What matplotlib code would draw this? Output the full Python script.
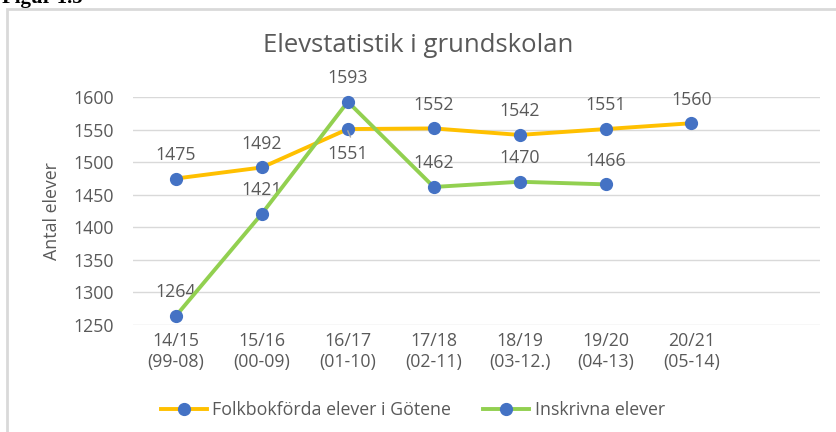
import numpy as np
import matplotlib
matplotlib.use("Agg")
import matplotlib.pyplot as plt
from matplotlib.patches import Rectangle

# data
kat = ["14/15\n(99-08)", "15/16\n(00-09)", "16/17\n(01-10)", "17/18\n(02-11)",
       "18/19\n(03-12.)", "19/20\n(04-13)", "20/21\n(05-14)", ""]
folkbok = [1475, 1492, 1551, 1552, 1542, 1551, 1560]
inskrivna = [1264, 1421, 1593, 1462, 1470, 1466]
yticks = [1250, 1300, 1350, 1400, 1450, 1500, 1550, 1600]

plt.rcParams['font.family'] = ['Open Sans', 'DejaVu Sans']
grey = "#595959"
gul = "#FFC000"
gron = "#92D050"
bla = "#4472C4"
fs = 12.8

fig = plt.figure(figsize=(8.37, 4.32), dpi=100)
ax = fig.add_axes([0.159, 0.248, 0.821, 0.527])

# chart frame
fig.patches.append(Rectangle((7/837, -0.1), 1.0, 1 - 9/432 + 0.1, transform=fig.transFigure,
                             fill=False, edgecolor="#d9d9d9", linewidth=2))
fig.text(2/837, 1 + 2/432, "Figur 1.5", fontsize=15, fontweight="bold",
         family="Liberation Serif", va="center", ha="left")

x = np.arange(len(kat))
ax.plot(x[:len(folkbok)], folkbok, color=gul, lw=2.8, marker="o", ms=8.5,
        mfc=bla, mec=bla, label="Folkbokförda elever i Götene", clip_on=False, zorder=3)
ax.plot(x[:len(inskrivna)], inskrivna, color=gron, lw=2.8, marker="o", ms=8.5,
        mfc=bla, mec=bla, label="Inskrivna elever", clip_on=False, zorder=4)

for i, v in enumerate(folkbok):
    if i == 2:
        ax.annotate(str(v), (x[i], v), xytext=(0, -18), textcoords="offset points",
                    ha="center", va="center", fontsize=fs, color=grey)
        ax.plot([x[i], x[i] + 0.03], [v - 3, v - 12], color="#a6a6a6", lw=1, zorder=5)
    else:
        ax.annotate(str(v), (x[i], v), xytext=(0, 17), textcoords="offset points",
                    ha="center", va="center", fontsize=fs, color=grey)
for i, v in enumerate(inskrivna):
    ax.annotate(str(v), (x[i], v), xytext=(0, 17), textcoords="offset points",
                ha="center", va="center", fontsize=fs, color=grey)

ax.set_xlim(-0.5, len(kat) - 0.5)
ax.set_ylim(1250, 1600)
ax.set_yticks(yticks)
ax.set_xticks(x)
ax.set_xticklabels(kat, color=grey, fontsize=fs, linespacing=1.25)
ax.tick_params(axis="y", colors=grey, labelsize=fs, length=0, pad=14)
ax.tick_params(axis="x", length=0, pad=5)
ax.grid(axis="y", color="#d9d9d9", lw=1)
ax.set_axisbelow(True)
for s in ax.spines.values():
    s.set_visible(False)
ax.set_ylabel("Antal elever", color=grey, fontsize=fs, labelpad=9)

fig.text(0.5, 1 - 45/432, "Elevstatistik i grundskolan", ha="center", va="center",
         fontsize=18.5, color=grey)

ax.legend(loc="center", bbox_to_anchor=(0.493, 1 - 410/432), bbox_transform=fig.transFigure,
          ncol=2, frameon=False, fontsize=fs, labelcolor=grey, handlelength=2.6,
          columnspacing=1.8, handletextpad=0.3)

fig.savefig("out.png", dpi=100)
